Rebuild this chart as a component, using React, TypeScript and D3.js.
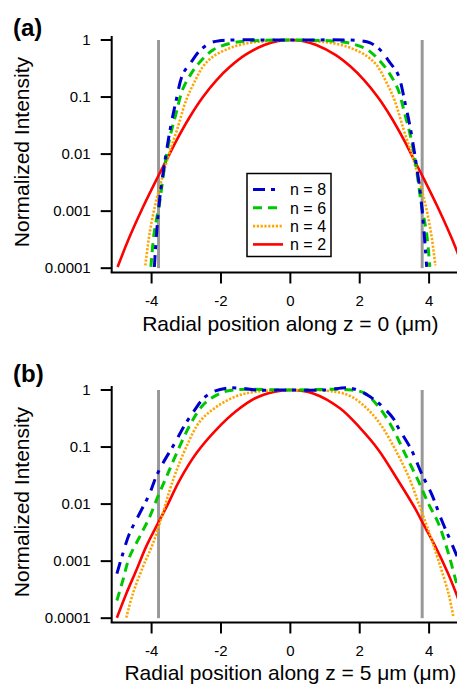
import React from 'react';
import * as d3 from 'd3';

// ---------- data ----------
const X_TICKS = [-4, -2, 0, 2, 4];
const X_TICK_LABELS = ['-4', '-2', '0', '2', '4'];
const Y_TICKS = [1, 0.1, 0.01, 0.001, 0.0001];
const Y_TICK_LABELS = ['1', '0.1', '0.01', '0.001', '0.0001'];
const BEAM_EDGES = [-3.8, 3.8];
const LEGEND_LABELS = ['n = 8', 'n = 6', 'n = 4', 'n = 2'];

// panel (a): z = 0
const A_N8_X = [-3.92, -3.85, -3.75, -3.61, -3.46, -3.31, -3.1, -2.85, -2.6, -2.3, -2.0, -1.7, 0, 1.7, 2.0, 2.3, 2.6, 2.85, 3.1, 3.31, 3.46, 3.61, 3.75, 3.85, 3.93];
const A_N8_I = [1.05e-4, 4.57e-4, 2.0e-3, 7.94e-3, 0.0282, 0.0776, 0.251, 0.417, 0.661, 0.891, 0.977, 1, 1, 1, 0.977, 0.891, 0.661, 0.417, 0.251, 0.0776, 0.0282, 7.94e-3, 2.0e-3, 4.57e-4, 1.05e-4];
const A_N6_X = [-4.02, -3.93, -3.77, -3.62, -3.47, -3.3, -3.1, -2.85, -2.6, -2.22, -1.74, -1.27, 0, 1.27, 1.74, 2.22, 2.6, 2.85, 3.1, 3.3, 3.47, 3.62, 3.77, 3.93, 4.02];
const A_N6_I = [1.05e-4, 3.98e-4, 1.41e-3, 6.31e-3, 0.02, 0.0501, 0.138, 0.263, 0.417, 0.676, 0.871, 0.955, 1, 0.955, 0.871, 0.676, 0.417, 0.263, 0.138, 0.0501, 0.02, 6.31e-3, 1.41e-3, 3.98e-4, 1.05e-4];
const A_N4_X = [-4.18, -4.06, -3.9, -3.7, -3.5, -3.27, -3.0, -2.75, -2.5, -2.2, -1.74, -1.26, -0.78, 0, 0.78, 1.26, 1.74, 2.2, 2.5, 2.75, 3.0, 3.27, 3.5, 3.7, 3.9, 4.06, 4.18];
const A_N4_I = [1.12e-4, 3.98e-4, 1.26e-3, 3.72e-3, 0.01, 0.0263, 0.0891, 0.191, 0.355, 0.525, 0.724, 0.871, 0.944, 1, 0.944, 0.871, 0.724, 0.525, 0.355, 0.191, 0.0891, 0.0263, 0.01, 3.72e-3, 1.26e-3, 3.98e-4, 1.12e-4];
const A_N2_X = [-4.98, -4.64, -4.25, -3.87, -3.55, -3.3, -2.9, -2.52, -2.12, -1.75, -1.3, -0.75, -0.35, 0, 0.35, 0.75, 1.3, 1.75, 2.12, 2.52, 2.9, 3.3, 3.55, 3.87, 4.25, 4.64, 4.98];
const A_N2_I = [1.05e-4, 3.47e-4, 1.17e-3, 3.47e-3, 8.32e-3, 0.0166, 0.0447, 0.1, 0.2, 0.335, 0.547, 0.818, 0.957, 1, 0.957, 0.818, 0.547, 0.335, 0.2, 0.1, 0.0447, 0.0166, 8.32e-3, 3.47e-3, 1.17e-3, 3.47e-4, 1.05e-4];

// panel (b): z = 5 um
const B_N8_X = [-5.0, -4.83, -4.64, -4.35, -4.06, -3.87, -3.68, -3.34, -3.05, -2.79, -2.51, -2.22, -1.8, -1.4, -1.0, 0, 1.0, 1.65, 2.05, 2.3, 2.6, 2.97, 3.11, 3.49, 3.78, 4.07, 4.36, 4.65, 5.0];
const B_N8_I = [6.03e-4, 1.35e-3, 3.02e-3, 6.76e-3, 0.0151, 0.0302, 0.0513, 0.115, 0.24, 0.417, 0.708, 0.933, 1.084, 1.072, 1, 1, 1, 1.096, 0.933, 0.759, 0.55, 0.316, 0.219, 0.0891, 0.0347, 0.0151, 5.25e-3, 2.04e-3, 6.31e-4];
const B_N6_X = [-5.0, -4.83, -4.64, -4.35, -4.06, -3.82, -3.57, -3.28, -2.89, -2.51, -2.03, -1.64, 0, 1.77, 2.15, 2.54, 2.92, 3.3, 3.68, 3.98, 4.27, 4.56, 4.8, 5.0];
const B_N6_I = [2.04e-4, 4.57e-4, 1.17e-3, 2.63e-3, 5.89e-3, 0.0135, 0.0302, 0.0776, 0.245, 0.55, 0.871, 1, 1, 1, 0.871, 0.513, 0.229, 0.0776, 0.0263, 0.0102, 4.57e-3, 1.35e-3, 3.98e-4, 1.78e-4];
const B_N4_X = [-4.73, -4.54, -4.25, -3.96, -3.68, -3.48, -3.28, -3.0, -2.62, -2.14, -1.56, -0.98, 0, 1.28, 1.77, 2.25, 2.64, 3.03, 3.41, 3.7, 3.98, 4.27, 4.56, 4.7];
const B_N4_I = [1.02e-4, 2.69e-4, 7.94e-4, 2.04e-3, 6.76e-3, 0.0174, 0.0389, 0.1, 0.275, 0.501, 0.776, 0.933, 1, 0.933, 0.759, 0.447, 0.229, 0.0891, 0.0302, 0.0102, 3.47e-3, 1.02e-3, 2.69e-4, 1.05e-4];
const B_N2_X = [-5.0, -4.73, -4.44, -4.16, -3.87, -3.57, -3.19, -2.71, -2.14, -1.56, -1.0, -0.45, 0, 0.66, 1.43, 2.0, 2.54, 3.12, 3.6, 3.79, 4.16, 4.55, 4.8, 5.0];
const B_N2_I = [1.02e-4, 2.69e-4, 6.92e-4, 1.78e-3, 3.98e-3, 8.91e-3, 0.0263, 0.0776, 0.2, 0.427, 0.724, 0.933, 1, 0.871, 0.479, 0.219, 0.0891, 0.0251, 8.32e-3, 5.01e-3, 1.91e-3, 6.03e-4, 2.51e-4, 1.12e-4];

// ---------- styles ----------
const STYLES = [
  { color: '#0000cc', dash: '12,6,4,8', width: 3 },
  { color: '#00c800', dash: '9,6', width: 3 },
  { color: '#ffa500', dash: '2.2,1.6', width: 2.6 },
  { color: '#ff0000', dash: undefined as string | undefined, width: 2.6 },
];

const FONT = '"Liberation Sans", Arial, Helvetica, sans-serif';
const W = 457;
const H = 689;
const X_LEFT = 111.7;
const X_RIGHT = 469;

const xScale = d3.scaleLinear().domain([-5.15, 5.15]).range([X_LEFT, X_RIGHT]);

type PanelProps = {
  top: number;
  bottom: number;
  label: string;
  labelY: number;
  title: string;
  titleY: number;
  series: [number[], number[]][];
  legend: boolean;
  id: string;
};

function Panel({ top, bottom, label, labelY, title, titleY, series, legend, id }: PanelProps) {
  const y = d3.scaleLog().domain([8.4e-5, 1.175]).range([bottom, top]);
  const line = d3
    .line<[number, number]>()
    .x((d) => xScale(d[0]))
    .y((d) => y(d[1]))
    .curve(d3.curveCatmullRom.alpha(0.5));
  const midY = (y(1) + y(1e-4)) / 2;
  return (
    <g>
      <defs>
        <clipPath id={id}>
          <rect x={X_LEFT} y={top - 6} width={X_RIGHT - X_LEFT} height={bottom - top + 6} />
        </clipPath>
      </defs>
      {BEAM_EDGES.map((e) => (
        <line key={e} x1={xScale(e)} x2={xScale(e)} y1={y(1)} y2={y(1e-4)} stroke="#999" strokeWidth={3} />
      ))}
      <g clipPath={`url(#${id})`}>
        {series
          .map(([xs, vs], i) => {
            const pts = xs.map((xv, j) => [xv, vs[j]] as [number, number]);
            return (
              <path
                key={i}
                d={line(pts) || ''}
                fill="none"
                stroke={STYLES[i].color}
                strokeWidth={STYLES[i].width}
                strokeDasharray={STYLES[i].dash}
              />
            );
          })
          .reverse()}
      </g>
      <line x1={X_LEFT} x2={X_LEFT} y1={top} y2={bottom} stroke="#000" strokeWidth={2} />
      <line x1={X_LEFT - 1} x2={X_RIGHT} y1={bottom} y2={bottom} stroke="#000" strokeWidth={2} />
      {Y_TICKS.map((t, i) => (
        <g key={t}>
          <line x1={X_LEFT - 11} x2={X_LEFT} y1={y(t)} y2={y(t)} stroke="#000" strokeWidth={2} />
          <text x={X_LEFT - 21} y={y(t)} dy="0.35em" textAnchor="end" fontSize={15} fontFamily={FONT}>
            {Y_TICK_LABELS[i]}
          </text>
        </g>
      ))}
      {X_TICKS.map((t, i) => (
        <g key={t}>
          <line x1={xScale(t)} x2={xScale(t)} y1={bottom} y2={bottom + 11} stroke="#000" strokeWidth={2} />
          <text x={xScale(t)} y={bottom + 33} textAnchor="middle" fontSize={15} fontFamily={FONT}>
            {X_TICK_LABELS[i]}
          </text>
        </g>
      ))}
      <text x={xScale(0)} y={titleY} textAnchor="middle" fontSize={21} fontFamily={FONT}>
        {title}
      </text>
      <text
        transform={`translate(29,${midY - 2}) rotate(-90)`}
        textAnchor="middle"
        fontSize={21}
        fontFamily={FONT}
      >
        Normalized Intensity
      </text>
      <text x={13} y={labelY} fontSize={24} fontWeight="bold" fontFamily={FONT}>
        {label}
      </text>
      {legend && (
        <g>
          <rect x={247} y={173.5} width={84} height={83} fill="#fff" stroke="#000" strokeWidth={1.5} />
          {LEGEND_LABELS.map((lab, i) => {
            const ry = 189.5 + i * 18.3;
            return (
              <g key={lab}>
                <line
                  x1={253}
                  x2={283}
                  y1={ry}
                  y2={ry}
                  stroke={STYLES[i].color}
                  strokeWidth={STYLES[i].width}
                  strokeDasharray={STYLES[i].dash}
                />
                <text x={290} y={ry} dy="0.36em" fontSize={16} fontFamily={FONT}>
                  {lab}
                </text>
              </g>
            );
          })}
        </g>
      )}
    </g>
  );
}

export default function App() {
  return (
    <svg
      width={W}
      height={H}
      style={{ position: 'absolute', left: 0, top: 0, background: '#fff' }}
      xmlns="http://www.w3.org/2000/svg"
    >
      <rect x={0} y={0} width={W} height={H} fill="#fff" />
      <Panel
        id="clipA"
        top={36}
        bottom={272.5}
        label="(a)"
        labelY={36}
        title="Radial position along z = 0 (μm)"
        titleY={331}
        series={[
          [A_N8_X, A_N8_I],
          [A_N6_X, A_N6_I],
          [A_N4_X, A_N4_I],
          [A_N2_X, A_N2_I],
        ]}
        legend={true}
      />
      <Panel
        id="clipB"
        top={386}
        bottom={622.5}
        label="(b)"
        labelY={382}
        title="Radial position along z = 5 μm (μm)"
        titleY={680}
        series={[
          [B_N8_X, B_N8_I],
          [B_N6_X, B_N6_I],
          [B_N4_X, B_N4_I],
          [B_N2_X, B_N2_I],
        ]}
        legend={false}
      />
    </svg>
  );
}
